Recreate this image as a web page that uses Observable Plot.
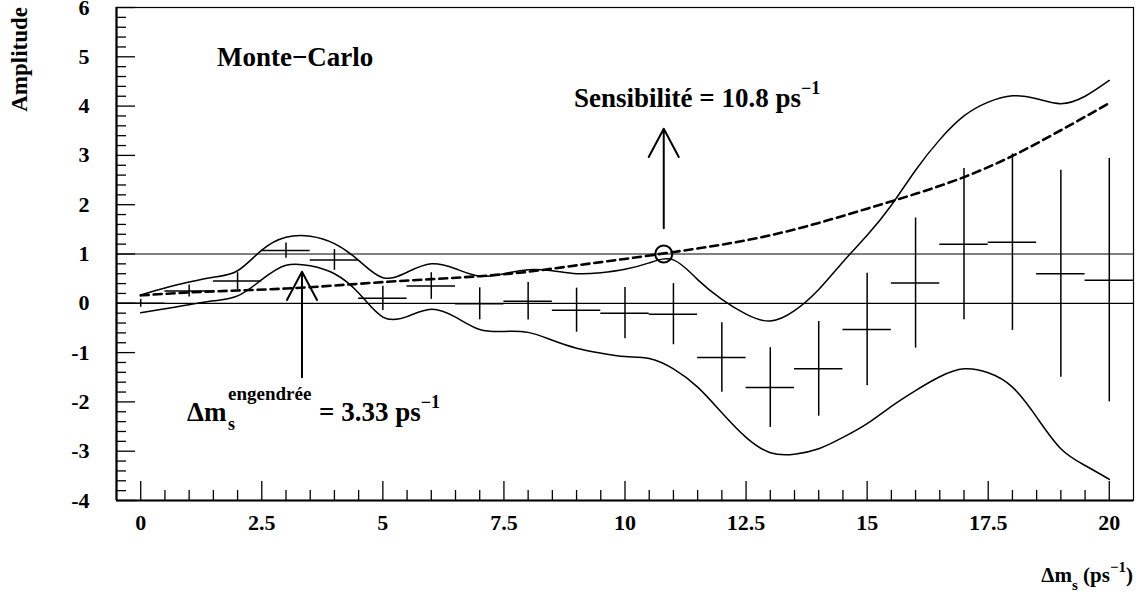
<!DOCTYPE html>
<html>
<head>
<meta charset="utf-8">
<script src="https://cdn.jsdelivr.net/npm/d3@7"></script>
<script src="https://cdn.jsdelivr.net/npm/@observablehq/plot@0.6"></script>
<style>
  html, body { margin: 0; padding: 0; background: #fff; }
  #chart svg { display: block; }
</style>
</head>
<body>
<div id="chart"></div>
<script>
// ---- Data ----
const binX = [0,1,2,3,4,5,6,7,8,9,10,11,12,13,14,15,16,17,18,19,20];
const amplitude = [0.00,0.25,0.45,1.07,0.88,0.10,0.35,-0.01,0.04,-0.14,-0.20,-0.22,-1.10,-1.71,-1.33,-0.53,0.41,1.20,1.24,0.60,0.47];
const amplitudeError = [0.08,0.12,0.17,0.155,0.21,0.245,0.27,0.325,0.38,0.447,0.52,0.62,0.705,0.81,0.96,1.14,1.32,1.535,1.79,2.10,2.47];

const scanX = [0,0.5,1,1.5,2,2.5,3,3.5,4,4.5,5,5.5,6,6.5,7,7.5,8,8.5,9,9.5,10,10.5,11,11.5,12,12.5,13,13.5,14,14.5,15,15.5,16,16.5,17,17.5,18,18.5,19,19.5,20];
const upperBand = [0.17,0.31,0.43,0.53,0.66,1.08,1.34,1.36,1.21,0.87,0.52,0.63,0.80,0.70,0.55,0.60,0.68,0.66,0.60,0.62,0.69,0.82,0.88,0.48,0.08,-0.22,-0.36,-0.15,0.28,0.84,1.38,1.99,2.70,3.32,3.80,4.08,4.21,4.15,4.05,4.20,4.52];
const lowerBand = [-0.19,-0.11,-0.03,0.05,0.15,0.48,0.77,0.76,0.60,0.21,-0.28,-0.27,-0.12,-0.28,-0.53,-0.57,-0.59,-0.75,-0.91,-1.01,-1.08,-1.12,-1.33,-1.70,-2.22,-2.72,-3.03,-3.06,-2.95,-2.72,-2.44,-2.09,-1.77,-1.49,-1.33,-1.41,-1.70,-2.31,-2.95,-3.29,-3.57];

const sensX = [0,1,2,3,4,5,6,7,8,9,10,11,12,13,14,15,16,17,18,19,20];
const sensCurve = [0.16,0.22,0.26,0.30,0.36,0.43,0.49,0.55,0.64,0.77,0.90,1.04,1.19,1.38,1.63,1.92,2.22,2.56,2.99,3.51,4.06];

const sensitivity = 10.8;      // ps^-1
const generatedDm = 3.33;      // ps^-1

const xTickLabels = [0,2.5,5,7.5,10,12.5,15,17.5,20];
const yTickLabels = [-4,-3,-2,-1,0,1,2,3,4,5,6];

// ---- Tables built from the arrays ----
const points = binX.map((x, i) => ({x, a: amplitude[i], e: amplitudeError[i]}));
const upperPts = scanX.map((x, i) => ({x, y: upperBand[i]}));
const lowerPts = scanX.map((x, i) => ({x, y: lowerBand[i]}));
const sensPts = sensX.map((x, i) => ({x, y: sensCurve[i]}));

const xMinor = d3.range(-0.5, 20.51, 0.5).filter(v => !xTickLabels.some(t => Math.abs(t - v) < 1e-6) && v > -0.4 && v < 20.4);
const yMinor = d3.range(-4, 6.001, 0.2).map(v => Math.round(v * 10) / 10).filter(v => Math.abs(v - Math.round(v)) > 1e-6);

const W = 1141, H = 594;
const mL = 116, mR = 8, mT = 7, mB = 94;
const frameW = W - mL - mR, frameH = H - mT - mB;
const serif = "'Liberation Serif', 'Times New Roman', Times, serif";

const plot = Plot.plot({
  width: W, height: H,
  marginLeft: mL, marginRight: mR, marginTop: mT, marginBottom: mB,
  x: {domain: [-0.5, 20.5]},
  y: {domain: [-4, 6]},
  style: {fontFamily: serif, fontSize: "22px", fontWeight: "bold", background: "white", color: "black"},
  marks: [
    Plot.ruleY([0, 1], {stroke: "black", strokeWidth: 1.2}),
    // error bars
    Plot.ruleX(points, {x: "x", y1: d => d.a - d.e, y2: d => d.a + d.e, stroke: "black", strokeWidth: 1.5}),
    Plot.ruleY(points, {y: "a", x1: d => d.x - 0.5, x2: d => d.x + 0.5, stroke: "black", strokeWidth: 1.5}),
    // bands
    Plot.line(upperPts, {x: "x", y: "y", curve: "natural", stroke: "black", strokeWidth: 1.5}),
    Plot.line(lowerPts, {x: "x", y: "y", curve: "natural", stroke: "black", strokeWidth: 1.5}),
    // 1.645 sigma
    Plot.line(sensPts, {x: "x", y: "y", curve: "natural", stroke: "black", strokeWidth: 2.6, strokeDasharray: "8,5"}),
    // sensitivity marker
    Plot.dot([{x: sensitivity, y: 1}], {x: "x", y: "y", r: 8.5, stroke: "black", strokeWidth: 2, fill: "none"}),
    // arrows
    Plot.arrow([{x: generatedDm, y1: -1.5, y2: 0.64}, {x: sensitivity, y1: 1.52, y2: 3.54}],
      {x1: "x", x2: "x", y1: "y1", y2: "y2", stroke: "black", strokeWidth: 2, headLength: 24, headAngle: 56}),
    // ticks (inside the frame)
    Plot.tickX(xTickLabels, {x: d => d, insetTop: frameH - 19, stroke: "black", strokeWidth: 1.3}),
    Plot.tickX(xMinor, {x: d => d, insetTop: frameH - 10, stroke: "black", strokeWidth: 1.3}),
    Plot.tickY(yTickLabels, {y: d => d, insetRight: frameW - 19, stroke: "black", strokeWidth: 1.3}),
    Plot.tickY(yMinor, {y: d => d, insetRight: frameW - 10, stroke: "black", strokeWidth: 1.3}),
    Plot.frame({stroke: "black", strokeWidth: 1.2}),
    Plot.ruleX([-0.5], {stroke: "black", strokeWidth: 2.2}),
    Plot.ruleY([-4], {stroke: "black", strokeWidth: 2.2}),
    Plot.axisX(xTickLabels, {anchor: "bottom", tickSize: 0, tickPadding: 14, tickFormat: d => String(d), label: null}),
    Plot.axisY(yTickLabels, {anchor: "left", tickSize: 0, tickPadding: 27, tickFormat: d => String(d), label: null})
  ]
});

document.getElementById("chart").appendChild(plot);

// ---- Rich text annotations ----
const svg = d3.select(plot);
const sx = plot.scale("x"), sy = plot.scale("y");
const g = svg.append("g").attr("font-family", serif).attr("font-weight", "bold").attr("fill", "black");

// y axis title
g.append("text").attr("transform", `translate(27,${mT}) rotate(-90)`)
  .attr("text-anchor", "end").attr("font-size", 23).text("Amplitude");

// Monte-Carlo
g.append("text").attr("x", 217).attr("y", 66).attr("text-anchor", "start")
  .attr("font-size", 27).text("Monte\u2212Carlo");

// Sensibilité
{
  const t = g.append("text").attr("x", 574).attr("y", 107).attr("text-anchor", "start").attr("font-size", 27);
  t.append("tspan").text(`Sensibilit\u00e9 = ${sensitivity} ps`);
  t.append("tspan").attr("dy", -13).attr("font-size", 18).text("\u22121");
}

// Δm_s^engendrée = 3.33 ps^-1
{
  const bx = 187, by = 421;
  g.append("text").attr("x", bx).attr("y", by).attr("text-anchor", "start").attr("font-size", 27).text("\u0394m");
  g.append("text").attr("x", bx + 41).attr("y", by + 9).attr("text-anchor", "start").attr("font-size", 18).text("s");
  g.append("text").attr("x", bx + 41).attr("y", by - 21).attr("text-anchor", "start").attr("font-size", 19).text("engendr\u00e9e");
  const t = g.append("text").attr("x", bx + 132).attr("y", by).attr("text-anchor", "start").attr("font-size", 27);
  t.append("tspan").text(`= ${generatedDm} ps`);
  t.append("tspan").attr("dy", -13).attr("font-size", 18).text("\u22121");
}

// x axis title
{
  const t = g.append("text").attr("x", W - mR).attr("y", 582).attr("text-anchor", "end").attr("font-size", 21);
  t.append("tspan").text("\u0394m");
  t.append("tspan").attr("dy", 8).attr("font-size", 15).text("s");
  t.append("tspan").attr("dy", -8).attr("font-size", 21).text(" (ps");
  t.append("tspan").attr("dy", -10).attr("font-size", 15).text("\u22121");
  t.append("tspan").attr("dy", 10).attr("font-size", 21).text(")");
}
</script>
</body>
</html>
